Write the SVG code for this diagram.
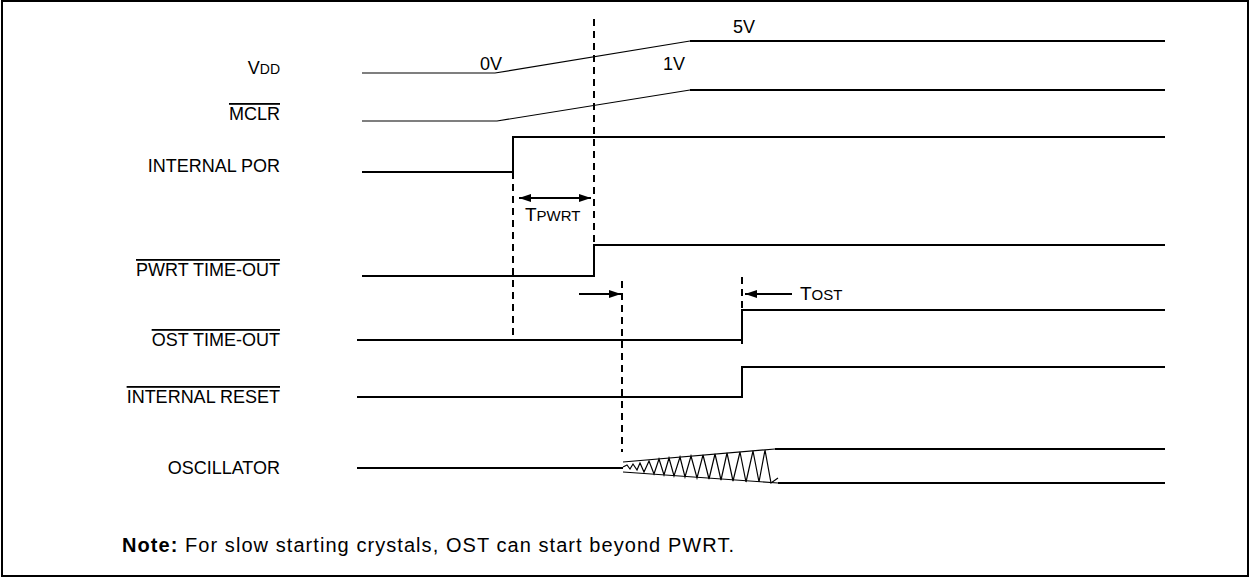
<svg xmlns="http://www.w3.org/2000/svg" width="1250" height="578" viewBox="0 0 1250 578">
<style>
.lbl{font-family:"Liberation Sans",Arial,sans-serif;font-size:18px;fill:#000;text-anchor:end}
.ov{text-decoration:overline}
.txt{font-family:"Liberation Sans",Arial,sans-serif;font-size:18px;fill:#000}
.sm{font-size:14px}
.sub{font-size:15px}
.sig{fill:none;stroke:#000;stroke-width:2}
.thin{fill:none;stroke:#000;stroke-width:1.2}
.dash{fill:none;stroke:#000;stroke-width:2;stroke-dasharray:7 5}
.arr{fill:none;stroke:#000;stroke-width:2}
</style>
<defs>
<marker id="ah" markerWidth="12" markerHeight="8" refX="12" refY="4" orient="auto" markerUnits="userSpaceOnUse">
<path d="M0,0 L12,4 L0,8 Z" fill="#000"/>
</marker>
<marker id="ahs" markerWidth="12" markerHeight="8" refX="0" refY="4" orient="auto" markerUnits="userSpaceOnUse">
<path d="M12,0 L0,4 L12,8 Z" fill="#000"/>
</marker>
</defs>
<rect x="2" y="1" width="1246" height="575" fill="#fff" stroke="#000" stroke-width="2"/>

<g id="label-vdd"><text class="lbl" x="280" y="74">V<tspan class="sm">DD</tspan></text></g>
<g id="label-mclr"><text class="lbl ov" x="280" y="120">MCLR</text></g>
<g id="label-por"><text class="lbl" x="280" y="172">INTERNAL POR</text></g>
<g id="label-pwrt"><text class="lbl ov" x="280" y="276">PWRT TIME-OUT</text></g>
<g id="label-ost"><text class="lbl ov" x="280" y="346">OST TIME-OUT</text></g>
<g id="label-reset"><text class="lbl ov" x="280" y="403">INTERNAL RESET</text></g>
<g id="label-osc"><text class="lbl" x="280" y="474">OSCILLATOR</text></g>

<g id="connectors">
<polyline class="thin" points="362,73 495,73 690,41"/>
<line class="sig" x1="690" y1="41" x2="1165" y2="41"/>
<polyline class="thin" points="362,121 497,121 690,90"/>
<line class="sig" x1="690" y1="90" x2="1165" y2="90"/>
<polyline class="sig" points="362,172 513,172 513,137 1165,137"/>
<polyline class="sig" points="362,276 594,276 594,245 1165,245"/>
<polyline class="sig" points="357,340 742,340 742,310 1165,310"/>
<polyline class="sig" points="357,397 742,397 742,367 1165,367"/>
<line class="sig" x1="357" y1="468" x2="623" y2="468"/>
<polyline class="thin" points="623,462 775,449"/>
<polyline class="thin" points="623,472 778,483"/>
<line class="sig" x1="775" y1="449" x2="1165" y2="449"/>
<line class="sig" x1="778" y1="483" x2="1165" y2="483"/>
<polyline class="thin" points="623,467 627,465 630,469 633,464 637,470 640,463 644,472 649,461 654,474 659,459 664,475 669,458 674,476 680,457 685,477 691,456 697,478 703,455 709,479 715,454 721,480 727,453 733,481 740,452 746,482 753,451 759,482 765,450 771,483 778,478"/>
<line class="dash" x1="594" y1="19" x2="594" y2="245"/>
<line class="dash" x1="513" y1="172" x2="513" y2="336"/>
<line class="dash" x1="622" y1="281" x2="622" y2="452"/>
<line class="dash" x1="742" y1="277" x2="742" y2="347"/>
<line class="arr" x1="519" y1="198" x2="591" y2="198" marker-start="url(#ahs)" marker-end="url(#ah)"/>
<line class="arr" x1="579" y1="294" x2="621" y2="294" marker-end="url(#ah)"/>
<line class="arr" x1="792" y1="294" x2="745" y2="294" marker-end="url(#ah)"/>
</g>

<g id="annotations">
<text class="txt" x="733" y="33">5V</text>
<text class="txt" x="480" y="70">0V</text>
<text class="txt" x="663" y="70">1V</text>
<text class="txt" x="525" y="221" style="font-size:19px">T<tspan class="sub">PWRT</tspan></text>
<text class="txt" x="800" y="300" style="font-size:19px">T<tspan class="sub">OST</tspan></text>
<text class="txt" x="122" y="552" style="font-size:20px" textLength="612" lengthAdjust="spacing"><tspan font-weight="bold">Note:</tspan> For slow starting crystals, OST can start beyond PWRT.</text>
</g>
</svg>
